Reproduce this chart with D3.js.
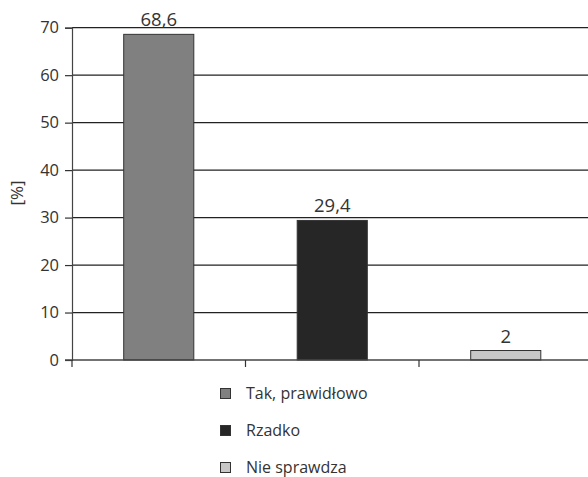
<!DOCTYPE html>
<html><head><meta charset="utf-8">
<script src="https://cdn.jsdelivr.net/npm/d3@7/dist/d3.min.js"></script>
<style>body{margin:0;background:#fff;overflow:hidden}</style>
</head><body>
<svg id="c" width="588" height="477"></svg>
<script>
const categories = ["Tak, prawidłowo", "Rzadko", "Nie sprawdza"];
const values = [68.6, 29.4, 2];
const valueLabels = ["68,6", "29,4", "2"];
const colors = ["#808080", "#262626", "#c8c8c8"];
const yTicks = [0, 10, 20, 30, 40, 50, 60, 70];

(function () {
const svg = d3.select("#c");
const font = "'Open Sans', sans-serif";
const mLeft = 72, mRight = 592.5, mTop = 27.7, mBottom = 360;

const x = d3.scaleBand().domain(categories).range([mLeft, mRight]).paddingInner(0.596).paddingOuter(0.298);
const y = d3.scaleLinear().domain([0, 70]).range([mBottom, mTop]);

// gridlines
svg.append("g").selectAll("line").data(yTicks.filter(d => d > 0)).join("line")
  .attr("x1", mLeft).attr("x2", mRight)
  .attr("y1", d => y(d)).attr("y2", d => y(d))
  .attr("stroke", "#222").attr("stroke-width", 1.3);

// bars
svg.append("g").selectAll("rect").data(values).join("rect")
  .attr("x", (d, i) => x(categories[i]))
  .attr("width", x.bandwidth())
  .attr("y", d => y(d))
  .attr("height", d => mBottom - y(d))
  .attr("fill", (d, i) => colors[i])
  .attr("stroke", "#333").attr("stroke-width", 1);

// y axis
const yAxis = svg.append("g").attr("transform", `translate(${mLeft},0)`)
  .call(d3.axisLeft(y).tickValues(yTicks).tickSize(7).tickPadding(6));
yAxis.select(".domain").attr("stroke", "#444").attr("stroke-width", 1.2);
yAxis.selectAll(".tick line").attr("stroke", "#333").attr("stroke-width", 1.2);
yAxis.selectAll("text").attr("font-family", font).attr("font-size", 16.5).attr("fill", "#333");

// x axis
const xEdges = d3.scaleLinear().domain([0, 3]).range([mLeft, mRight]);
svg.append("line").attr("x1", mLeft - 7).attr("x2", mRight).attr("y1", mBottom).attr("y2", mBottom)
  .attr("stroke", "#444").attr("stroke-width", 1.3);
svg.append("g").selectAll("line").data([0, 1, 2, 3]).join("line")
  .attr("x1", d => xEdges(d)).attr("x2", d => xEdges(d))
  .attr("y1", mBottom).attr("y2", mBottom + 7)
  .attr("stroke", "#333").attr("stroke-width", 1.2);

// value labels
svg.append("g").selectAll("text").data(values).join("text")
  .attr("x", (d, i) => x(categories[i]) + x.bandwidth() / 2)
  .attr("y", d => y(d) - 8)
  .attr("text-anchor", "middle")
  .attr("font-family", font).attr("font-size", 18.5).attr("fill", "#333")
  .text((d, i) => valueLabels[i]);

// y label
svg.append("text").attr("transform", "translate(23,193) rotate(-90)")
  .attr("text-anchor", "middle").attr("font-family", font).attr("font-size", 17).attr("fill", "#333")
  .text("[%]");

// legend
const lg = svg.append("g").selectAll("g").data(categories).join("g")
  .attr("transform", (d, i) => `translate(220,${393.5 + i * 37})`);
lg.append("rect").attr("x", 0.5).attr("y", -5).attr("width", 10).attr("height", 10)
  .attr("fill", (d, i) => colors[i]).attr("stroke", "#333").attr("stroke-width", 1);
lg.append("text").attr("x", 26).attr("y", 0).attr("dy", "0.32em")
  .attr("font-family", font).attr("font-size", 16).attr("fill", "#333")
  .text(d => d);
})();
</script>
</body></html>
